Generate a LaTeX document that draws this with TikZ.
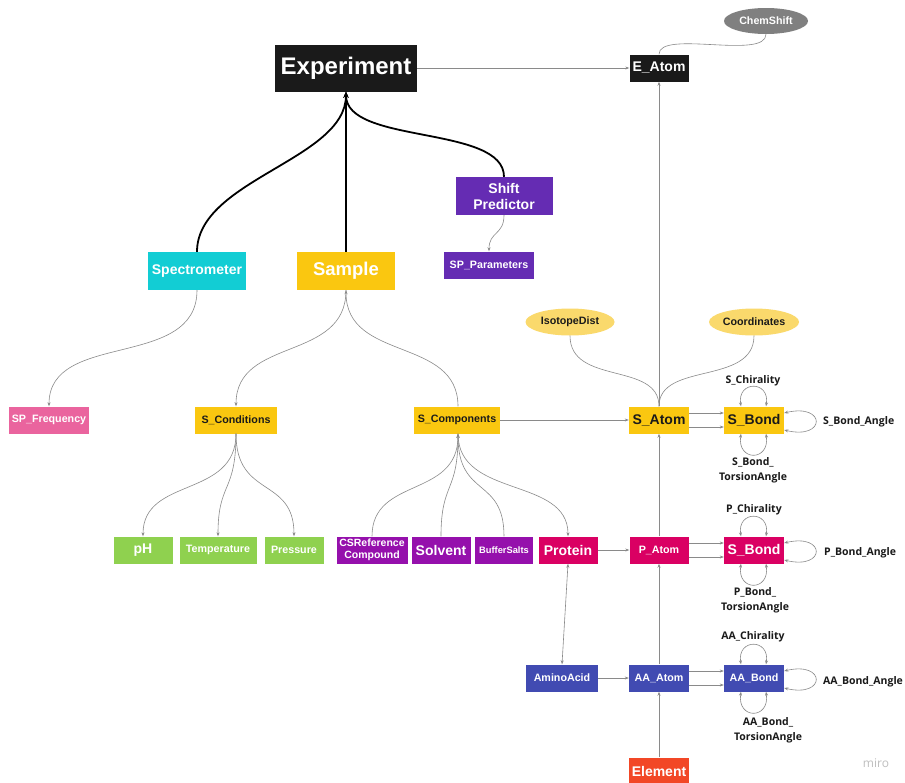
\documentclass[tikz,border=0pt]{standalone}
\usepackage{fontspec}
\setmainfont{Liberation Sans}
\newfontfamily\labfont{Open Sans}
\usetikzlibrary{arrows.meta,shapes.geometric}
\definecolor{cBlack}{HTML}{1A1A1A}
\definecolor{cGray}{HTML}{808080}
\definecolor{cPurple}{HTML}{652CB3}
\definecolor{cCyan}{HTML}{12CDD4}
\definecolor{cYellow}{HTML}{FAC710}
\definecolor{cLYellow}{HTML}{FAD96C}
\definecolor{cPink}{HTML}{EA649E}
\definecolor{cGreen}{HTML}{8FD14F}
\definecolor{cViolet}{HTML}{9510AC}
\definecolor{cMagenta}{HTML}{DA0063}
\definecolor{cBlue}{HTML}{414BB2}
\definecolor{cRed}{HTML}{F24726}
\definecolor{cLine}{HTML}{8A8A8A}
\tikzset{
  box/.style={rectangle, inner sep=0pt, align=center, text=white, font=\bfseries\fontsize{10.7}{12}\selectfont, minimum height=27pt},
  bigtxt/.style={font=\bfseries\fontsize{14}{16}\selectfont},
  oval/.style={ellipse, inner sep=0pt, font=\bfseries\fontsize{10.7}{12}\selectfont},
  lbl/.style={align=center, inner sep=0pt, text=cBlack, font=\labfont\bfseries\fontsize{10.5}{15}\selectfont},
  thin/.style={draw=cLine, line width=0.6pt},
  arr/.style={thin, -{Stealth[length=4pt,width=3pt]}},
  darr/.style={thin, {Stealth[length=4pt,width=3pt]}-{Stealth[length=4pt,width=3pt]}},
  thick/.style={draw=black, line width=1.8pt},
  tarr/.style={thick, -{Stealth[length=6pt,width=5pt]}}
}
\begin{document}
\begin{tikzpicture}[x=1pt,y=-1pt]
\useasboundingbox[fill=white] (0,0) rectangle (905,782);
% top
\node[box, fill=cBlack, minimum width=142pt, minimum height=47pt, font=\bfseries\fontsize{24}{26}\selectfont] (exp) at (346,68) {Experiment};
\node[box, bigtxt, fill=cBlack, minimum width=59pt] (eatom) at (659,68) {E\_Atom};
\node[oval, fill=cGray, text=white, minimum width=84pt, minimum height=26pt] (chem) at (766,21) {ChemShift};
\node[box, fill=cPurple, minimum width=97pt, minimum height=38pt, font=\bfseries\fontsize{14}{16}\selectfont] (shift) at (504,196) {Shift\\Predictor};
\node[box, fill=cPurple, minimum width=90pt] (spp) at (489,265) {SP\_Parameters};
\node[box, fill=cCyan, minimum width=98pt, minimum height=38pt, font=\bfseries\fontsize{14}{16}\selectfont] (spec) at (197,271) {Spectrometer};
\node[box, fill=cYellow, minimum width=98pt, minimum height=38pt, font=\bfseries\fontsize{18.5}{20}\selectfont] (sample) at (346,271) {Sample};
% row 1
\node[box, fill=cPink, minimum width=80pt] (spf) at (49,420) {SP\_Frequency};
\node[box, fill=cYellow, text=cBlack, minimum width=82pt] (scond) at (236,420) {S\_Conditions};
\node[box, fill=cYellow, text=cBlack, minimum width=86pt] (scomp) at (457,420) {S\_Components};
\node[box, bigtxt, fill=cYellow, text=cBlack, minimum width=60pt] (satom) at (659,420) {S\_Atom};
\node[box, bigtxt, fill=cYellow, text=cBlack, minimum width=60pt] (sbond) at (754,420) {S\_Bond};
\node[oval, fill=cLYellow, text=cBlack, minimum width=89pt, minimum height=27pt] (iso) at (570,322) {IsotopeDist};
\node[oval, fill=cLYellow, text=cBlack, minimum width=90pt, minimum height=27pt] (coord) at (754,322) {Coordinates};
% row 2
\node[box, bigtxt, fill=cGreen, minimum width=59pt] (ph) at (143,550) {pH};
\node[box, fill=cGreen, minimum width=77pt] (temp) at (218,550) {Temperature};
\node[box, fill=cGreen, minimum width=59pt] (press) at (294,550) {Pressure};
\node[box, fill=cViolet, minimum width=71pt, font=\bfseries\fontsize{10.5}{11.5}\selectfont] (csref) at (372,550) {CSReference\\Compound};
\node[box, bigtxt, fill=cViolet, minimum width=59pt] (solv) at (441,550) {Solvent};
\node[box, fill=cViolet, minimum width=58pt, font=\bfseries\fontsize{9.3}{11}\selectfont] (buff) at (504,550) {BufferSalts};
\node[box, bigtxt, fill=cMagenta, minimum width=59pt] (prot) at (568,550) {Protein};
\node[box, fill=cMagenta, minimum width=59pt] (patom) at (659,550) {P\_Atom};
\node[box, bigtxt, fill=cMagenta, minimum width=60pt] (pbond) at (754,550) {S\_Bond};
% row 3
\node[box, fill=cBlue, minimum width=72pt] (aa) at (562,678) {AminoAcid};
\node[box, fill=cBlue, minimum width=60pt] (aaatom) at (659,678) {AA\_Atom};
\node[box, fill=cBlue, minimum width=60pt] (aabond) at (754,678) {AA\_Bond};
\node[box, bigtxt, fill=cRed, minimum width=60pt] (elem) at (659,771) {Element};
% labels
\node[lbl] (l1) at (753,381) {S\_Chirality};
\node[lbl, anchor=west] (l2) at (823,422) {S\_Bond\_Angle};
\node[lbl] (l3) at (753,470) {S\_Bond\_\\TorsionAngle};
\node[lbl] (l4) at (754,510) {P\_Chirality};
\node[lbl, anchor=west] (l5) at (824,553) {P\_Bond\_Angle};
\node[lbl] (l6) at (755,600) {P\_Bond\_\\TorsionAngle};
\node[lbl] (l7) at (753,637) {AA\_Chirality};
\node[lbl, anchor=west] (l8) at (823,682) {AA\_Bond\_Angle};
\node[lbl] (l9) at (768,730) {AA\_Bond\_\\TorsionAngle};
\node[text=black!25, font=\labfont\fontsize{12}{14}\selectfont] (miro) at (876,763) {miro};
% thick edges
\draw[tarr] (spec.north) .. controls +(0,-72) and +(0,68) .. (exp.south);
\draw[tarr] (sample.north) -- (exp.south);
\draw[tarr] (shift.north) .. controls +(0,-52) and +(0,53) .. (exp.south);
% thin edges
\draw[arr] (exp.east) -- (eatom.west);
\draw[thin] (eatom.north) .. controls +(0,-25) and +(0,26) .. (chem.south);
\draw[arr] (satom.north) -- (eatom.south);
\draw[arr] (shift.south) .. controls +(0,20) and +(0,-20) .. (spp.north);
\draw[arr] (spec.south) .. controls +(0,80) and +(0,-76) .. (spf.north);
\draw[arr] (sample.south) .. controls +(0,72) and +(0,-70) .. (scond.north);
\draw[arr] ([xshift=1pt]scomp.north) .. controls +(0,-70) and +(0,72) .. (sample.south);
\draw[arr] (scond.south) .. controls +(0,65) and +(0,-60) .. (ph.north);
\draw[arr] (scond.south) .. controls +(0,60) and +(0,-55) .. (temp.north);
\draw[arr] (scond.south) .. controls +(0,65) and +(0,-60) .. (press.north);
\draw[arr] (csref.north) .. controls +(0,-60) and +(0,65) .. ([xshift=1pt]scomp.south);
\draw[arr] (solv.north) .. controls +(0,-55) and +(0,60) .. ([xshift=1pt]scomp.south);
\draw[arr] (buff.north) .. controls +(0,-60) and +(0,65) .. ([xshift=1pt]scomp.south);
\draw[arr] ([xshift=1pt]scomp.south) .. controls +(0,65) and +(0,-60) .. (prot.north);
\draw[arr] (scomp.east) -- (satom.west);
\draw[thin] (iso.south) .. controls +(0,50) and +(0,-45) .. (satom.north);
\draw[thin] (coord.south) .. controls +(0,50) and +(0,-45) .. (satom.north);
\draw[arr] (prot.east) -- (patom.west);
\draw[arr] (patom.north) -- (satom.south);
\draw[darr] (prot.south) -- (aa.north);
\draw[arr] (aa.east) -- (aaatom.west);
\draw[arr] (aaatom.north) -- (patom.south);
\draw[arr] (elem.north) -- (aaatom.south);
% bonds
\foreach \a/\b in {satom/sbond, patom/pbond, aaatom/aabond} {
  \draw[arr] ([yshift=7pt]\a.east) -- ([yshift=7pt]\b.west);
  \draw[arr] ([yshift=-7pt]\a.east) -- ([yshift=-7pt]\b.west);
  \draw[darr] ([xshift=-13pt]\b.north) .. controls +(-4,-26) and +(4,-26) .. ([xshift=12pt]\b.north);
  \draw[darr] ([yshift=7pt]\b.east) .. controls +(42,-10) and +(42,10) .. ([yshift=-10pt]\b.east);
  \draw[darr] ([xshift=-13pt]\b.south) .. controls +(-4,28) and +(4,28) .. ([xshift=12pt]\b.south);
}
\end{tikzpicture}
\end{document}
